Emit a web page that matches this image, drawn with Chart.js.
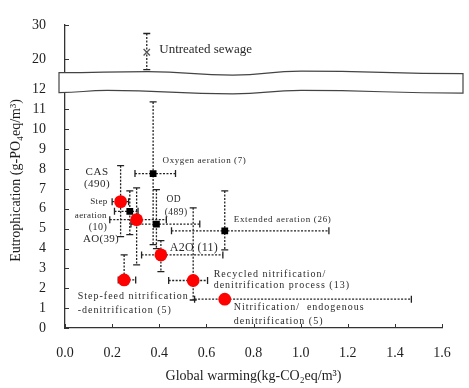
<!DOCTYPE html>
<html>
<head>
<meta charset="utf-8">
<script src="https://cdn.jsdelivr.net/npm/chart.js@4.4.0/dist/chart.umd.min.js"></script>
<style>
  html, body { margin: 0; padding: 0; background: #fff; }
</style>
</head>
<body>
<canvas id="lca-chart" width="469" height="388"></canvas>
<script>
// processes drawn as red circles
const redNames = ['CAS (490)', 'AO(39)', 'A2O (11)', 'Step-feed nitrification-denitrification (5)',
  'Recycled nitrification/denitrification process (13)', 'Nitrification/endogenous denitrification (5)'];
const redWarming = [0.236, 0.304, 0.407, 0.251, 0.544, 0.678];
const redEutro = [6.36, 5.45, 3.68, 2.42, 2.39, 1.45];
const redWarmingLow = [0.20, 0.19, 0.325, 0.226, 0.44, 0.55];
const redWarmingHigh = [0.27, 0.43, 0.67, 0.30, 0.605, 1.47];
const redEutroLow = [4.6, 3.18, 2.84, 2.2, 1.41, null];
const redEutroHigh = [8.17, 7.05, 4.4, 3.68, 6.05, null];

// processes drawn as black squares
const blackNames = ['Oxygen aeration (7)', 'Step aeration (10)', 'OD (489)', 'Extended aeration (26)'];
const blackWarming = [0.374, 0.275, 0.388, 0.678];
const blackEutro = [7.77, 5.87, 5.23, 4.89];
const blackWarmingLow = [0.297, 0.21, 0.28, 0.452];
const blackWarmingHigh = [0.469, 0.31, 0.572, 1.12];
const blackEutroLow = [4.2, 4.7, 4.0, 3.93];
const blackEutroHigh = [11.38, 6.9, 6.96, 6.9];

// untreated sewage (upper part of the broken axis)
const sewageWarming = [0.347];
const sewageEutro = [22.0];
const sewageEutroLow = [16.9];
const sewageEutroHigh = [27.5];

// axis ticks
const xTickValues = [0.0, 0.2, 0.4, 0.6, 0.8, 1.0, 1.2, 1.4, 1.6];
const lowerTicks = [0, 1, 2, 3, 4, 5, 6, 7, 8, 9, 10, 11, 12];
const upperTicks = [20, 30];

const serif = '"Liberation Serif", "Times New Roman", serif';
const ink = '#1e1e1e';

// text notes placed in data units
const annotations = [
  { text: 'Untreated sewage', x: 0.40, y: 22.7, axis: 'yTop', size: 13, align: 'left', spacing: 0 },
  { text: 'Oxygen aeration (7)', x: 0.414, y: 8.44, size: 9, align: 'left', spacing: 0.6 },
  { text: 'CAS', x: 0.136, y: 7.85, size: 11, align: 'center', spacing: 0.5 },
  { text: '(490)', x: 0.136, y: 7.25, size: 11, align: 'center', spacing: 0.5 },
  { text: 'Step', x: 0.144, y: 6.37, size: 9, align: 'center', spacing: 0.4 },
  { text: 'aeration', x: 0.11, y: 5.65, size: 9, align: 'center', spacing: 0.4 },
  { text: '(10)', x: 0.14, y: 5.08, size: 10, align: 'center', spacing: 0.5 },
  { text: 'AO(39)', x: 0.153, y: 4.49, size: 11, align: 'center', spacing: 0.3 },
  { text: 'OD', x: 0.462, y: 6.45, size: 9.5, align: 'center', spacing: 0.5 },
  { text: '(489)', x: 0.472, y: 5.8, size: 9.5, align: 'center', spacing: 0.5 },
  { text: 'Extended aeration (26)', x: 0.716, y: 5.45, size: 9, align: 'left', spacing: 0.7 },
  { text: 'A2O (11)', x: 0.445, y: 4.02, size: 12, align: 'left', spacing: 0.3 },
  { text: 'Recycled nitrification/', x: 0.631, y: 2.72, size: 10, align: 'left', spacing: 1 },
  { text: 'denitrification process (13)', x: 0.631, y: 2.14, size: 10, align: 'left', spacing: 1 },
  { text: 'Nitrification/  endogenous', x: 0.716, y: 1.02, size: 10, align: 'left', spacing: 1 },
  { text: 'denitrification (5)', x: 0.716, y: 0.32, size: 10, align: 'left', spacing: 1 },
  { text: 'Step-feed nitrification', x: 0.054, y: 1.61, size: 10, align: 'left', spacing: 1 },
  { text: '-denitrification (5)', x: 0.054, y: 0.91, size: 10, align: 'left', spacing: 1 },
];

const toPoints = (xs, ys) => xs.map((x, i) => ({ x: x, y: ys[i] }));

function dashedBar(ctx, x1, y1, x2, y2, vertical) {
  ctx.setLineDash([2, 1.5]);
  ctx.beginPath();
  ctx.moveTo(x1, y1);
  ctx.lineTo(x2, y2);
  ctx.stroke();
  ctx.setLineDash([]);
  ctx.beginPath();
  const c = 3.5;
  if (vertical) {
    ctx.moveTo(x1 - c, y1); ctx.lineTo(x1 + c, y1);
    ctx.moveTo(x2 - c, y2); ctx.lineTo(x2 + c, y2);
  } else {
    ctx.moveTo(x1, y1 - c); ctx.lineTo(x1, y1 + c);
    ctx.moveTo(x2, y2 - c); ctx.lineTo(x2, y2 + c);
  }
  ctx.stroke();
}

const errorBarPlugin = {
  id: 'errorBars',
  beforeDatasetsDraw(chart) {
    const ctx = chart.ctx;
    ctx.save();
    ctx.strokeStyle = '#222';
    ctx.lineWidth = 1.3;
    chart.data.datasets.forEach((ds, di) => {
      const err = ds.errorBars;
      if (!err) return;
      const meta = chart.getDatasetMeta(di);
      const xs = meta.xScale, ys = meta.yScale;
      ds.data.forEach((pt, i) => {
        const px = xs.getPixelForValue(pt.x);
        const py = ys.getPixelForValue(pt.y);
        if (err.xLow && err.xLow[i] != null) {
          dashedBar(ctx, xs.getPixelForValue(err.xLow[i]), py, xs.getPixelForValue(err.xHigh[i]), py, false);
        }
        if (err.yLow && err.yLow[i] != null) {
          dashedBar(ctx, px, ys.getPixelForValue(err.yHigh[i]), px, ys.getPixelForValue(err.yLow[i]), true);
        }
      });
    });
    ctx.restore();
  }
};

// short tick marks pointing into the plot
const innerTickPlugin = {
  id: 'innerTicks',
  beforeDatasetsDraw(chart) {
    const { ctx, scales } = chart;
    ctx.save();
    ctx.strokeStyle = '#333';
    ctx.lineWidth = 1;
    ctx.beginPath();
    scales.x.ticks.forEach(t => {
      const px = Math.round(scales.x.getPixelForValue(t.value)) + 0.5;
      ctx.moveTo(px, scales.x.top);
      ctx.lineTo(px, scales.x.top - 4);
    });
    [scales.y, scales.yTop].forEach(s => {
      s.ticks.forEach(t => {
        const py = Math.round(s.getPixelForValue(t.value)) + 0.5;
        ctx.moveTo(s.right, py);
        ctx.lineTo(s.right + 4, py);
      });
    });
    ctx.stroke();
    ctx.restore();
  }
};

const notesPlugin = {
  id: 'notes',
  afterDatasetsDraw(chart) {
    const ctx = chart.ctx;
    ctx.save();
    ctx.fillStyle = '#2a2a2a';
    ctx.textBaseline = 'middle';
    annotations.forEach(n => {
      const ys = chart.scales[n.axis || 'y'];
      ctx.font = n.size + 'px ' + serif;
      ctx.letterSpacing = n.spacing + 'px';
      ctx.textAlign = n.align;
      ctx.fillText(n.text, chart.scales.x.getPixelForValue(n.x), ys.getPixelForValue(n.y));
    });
    ctx.restore();
  }
};

// white wavy band that marks the broken y axis, plus the y axis title
const axisBreakPlugin = {
  id: 'axisBreak',
  afterDraw(chart) {
    const { ctx, chartArea, scales } = chart;
    const top = scales.yTop.bottom;
    const bottom = scales.y.getPixelForValue(lowerTicks[lowerTicks.length - 1]) + 3;
    const left = chartArea.left - 6;
    const right = chartArea.right + 21;
    const w = right - left;
    const topWave = [[0, 0], [0.22, -1], [0.43, 2.5], [0.6, -1.5], [1, 1.0]];
    const botWave = [[0, 0], [0.12, -2.2], [0.43, 1.3], [0.6, -2.2], [1, 0.5]];
    const trace = (wave, base, reverse) => {
      const pts = wave.map(([f, d]) => [left + f * w, base + d]);
      if (reverse) pts.reverse();
      ctx.lineTo(pts[0][0], pts[0][1]);
      for (let i = 1; i < pts.length; i++) {
        const [x0, y0] = pts[i - 1];
        const [x1, y1] = pts[i];
        const mx = (x0 + x1) / 2;
        ctx.bezierCurveTo(mx, y0, mx, y1, x1, y1);
      }
    };
    ctx.save();
    ctx.beginPath();
    ctx.moveTo(left, top);
    trace(topWave, top, false);
    trace(botWave, bottom, true);
    ctx.closePath();
    ctx.fillStyle = '#fff';
    ctx.fill();
    ctx.strokeStyle = '#444';
    ctx.lineWidth = 1.2;
    ctx.stroke();

    ctx.translate(16, (chartArea.top + chartArea.bottom) / 2 + 4);
    ctx.rotate(-Math.PI / 2);
    ctx.font = '14px ' + serif;
    ctx.fillStyle = ink;
    ctx.textAlign = 'center';
    ctx.textBaseline = 'middle';
    ctx.fillText('Eutrophication (g-PO\u2084eq/m\u00B3)', 0, 0);
    ctx.restore();
  }
};

const tickFont = { family: serif, size: 14 };
const axisLine = { display: true, color: '#333', width: 1.3 };
// invisible outer tick length only spaces the labels; real ticks come from innerTickPlugin
const hiddenTicks = { display: true, drawOnChartArea: false, drawTicks: true, tickLength: 15, tickColor: 'rgba(0,0,0,0)' };

new Chart(document.getElementById('lca-chart'), {
  type: 'scatter',
  data: {
    datasets: [
      {
        label: 'Black processes',
        data: toPoints(blackWarming, blackEutro),
        yAxisID: 'y',
        pointStyle: 'rect',
        pointRadius: 4.8,
        backgroundColor: '#000',
        borderColor: '#000',
        borderWidth: 0,
        errorBars: { xLow: blackWarmingLow, xHigh: blackWarmingHigh, yLow: blackEutroLow, yHigh: blackEutroHigh },
      },
      {
        label: 'Red processes',
        data: toPoints(redWarming, redEutro),
        yAxisID: 'y',
        pointStyle: 'circle',
        pointRadius: 6.4,
        backgroundColor: '#ff0000',
        borderColor: '#ff0000',
        borderWidth: 0,
        errorBars: { xLow: redWarmingLow, xHigh: redWarmingHigh, yLow: redEutroLow, yHigh: redEutroHigh },
      },
      {
        label: 'Untreated sewage',
        data: toPoints(sewageWarming, sewageEutro),
        yAxisID: 'yTop',
        pointStyle: 'crossRot',
        pointRadius: 4.5,
        borderColor: '#555',
        borderWidth: 1.3,
        errorBars: { yLow: sewageEutroLow, yHigh: sewageEutroHigh },
      },
    ],
  },
  options: {
    responsive: false,
    animation: false,
    devicePixelRatio: 1,
    events: [],
    layout: { padding: { top: 25, right: 27, bottom: 0, left: 0 } },
    plugins: {
      legend: { display: false },
      tooltip: { enabled: false },
    },
    scales: {
      x: {
        type: 'linear',
        min: 0,
        max: 1.6,
        afterBuildTicks: s => { s.ticks = xTickValues.map(v => ({ value: v })); },
        afterFit: s => { s.height = 60; },
        ticks: {
          callback: v => Number(v).toFixed(1),
          font: tickFont,
          color: ink,
          padding: 2,
          maxRotation: 0,
          autoSkip: false,
        },
        grid: hiddenTicks,
        border: axisLine,
        title: {
          display: true,
          text: 'Global warming(kg-CO\u2082eq/m\u00B3)',
          font: { family: serif, size: 14 },
          color: ink,
          padding: { top: 0, bottom: 3 },
        },
      },
      y: {
        type: 'linear',
        position: 'left',
        stack: 'eutro',
        stackWeight: 254.8,
        weight: 0,
        min: 0,
        max: 12.85,
        afterBuildTicks: s => { s.ticks = lowerTicks.map(v => ({ value: v })); },
        afterFit: s => { s.width = 65; },
        ticks: { font: tickFont, color: ink, padding: 4, autoSkip: false },
        grid: hiddenTicks,
        border: axisLine,
      },
      yTop: {
        type: 'linear',
        position: 'left',
        stack: 'eutro',
        stackWeight: 47.6,
        weight: 1,
        min: 16,
        max: 30,
        afterBuildTicks: s => { s.ticks = upperTicks.map(v => ({ value: v })); },
        afterFit: s => { s.width = 65; },
        ticks: { font: tickFont, color: ink, padding: 4, autoSkip: false },
        grid: hiddenTicks,
        border: axisLine,
      },
    },
  },
  plugins: [innerTickPlugin, errorBarPlugin, notesPlugin, axisBreakPlugin],
});
</script>
</body>
</html>
